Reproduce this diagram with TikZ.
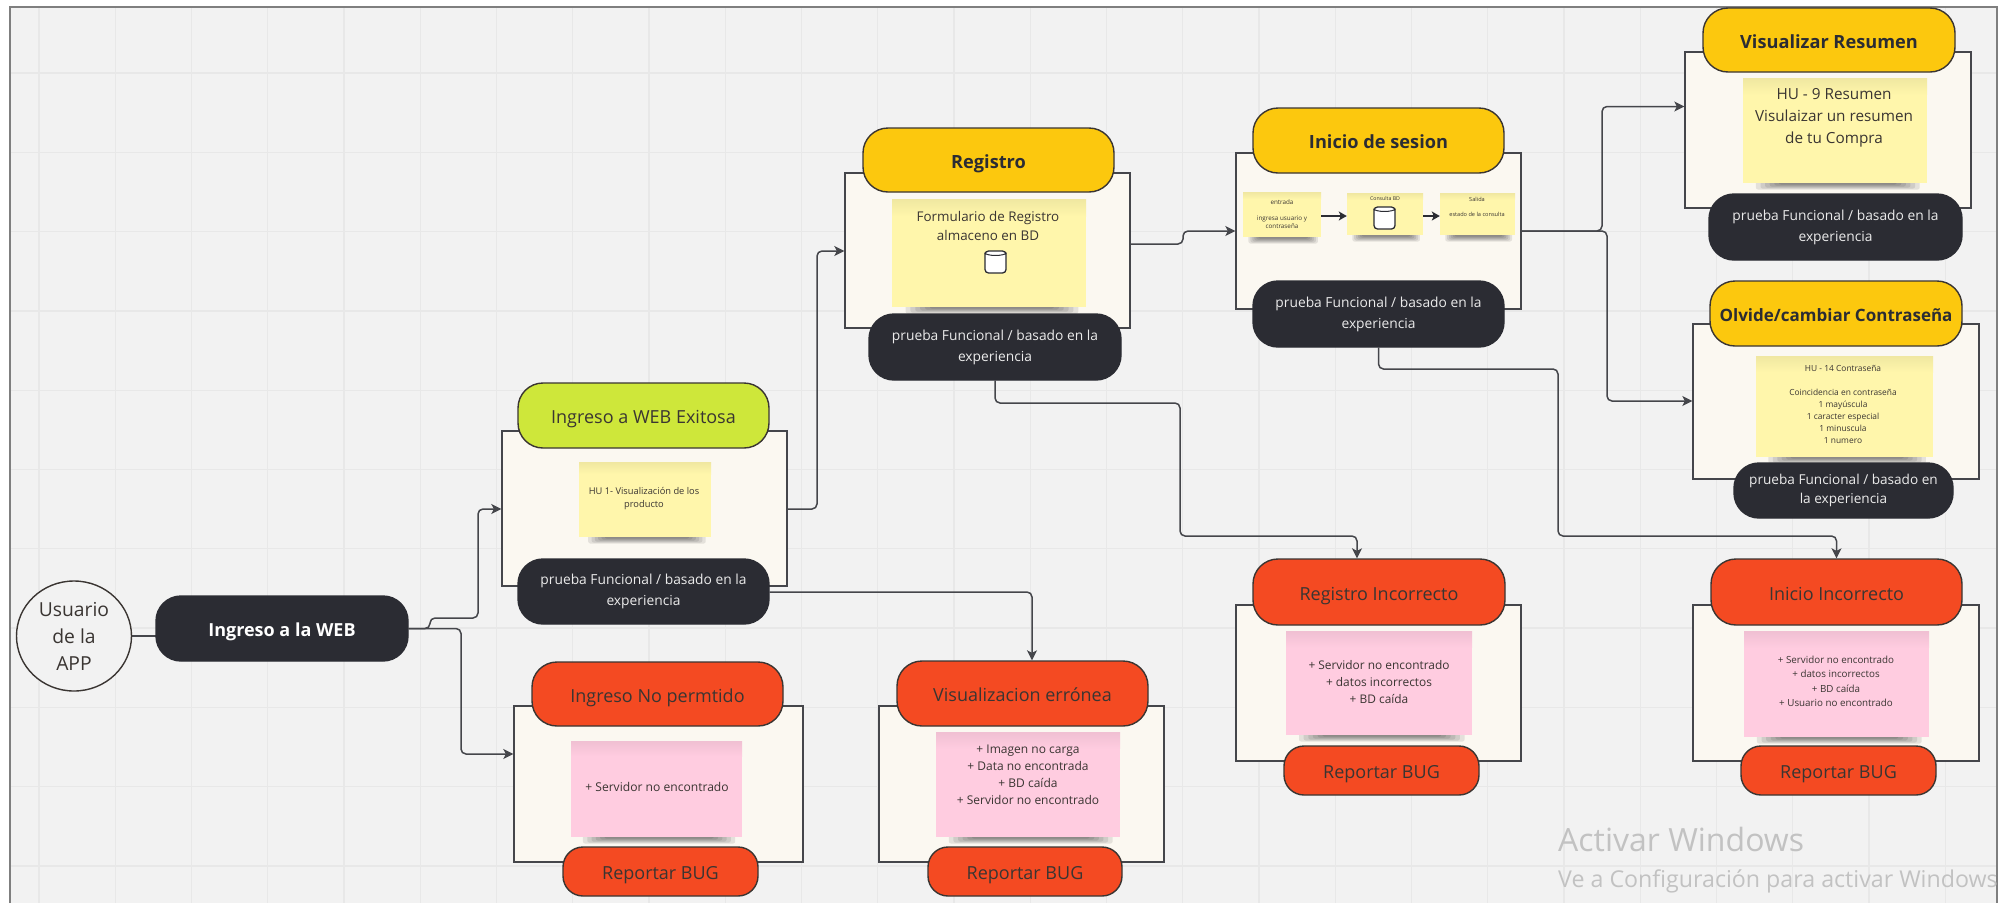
\documentclass[tikz,border=0pt]{standalone}
\usepackage{fontspec}
\setmainfont{Open Sans}
\usetikzlibrary{arrows.meta,calc,shapes.geometric}
\definecolor{bgc}{HTML}{F2F2F2}
\definecolor{gridc}{HTML}{E8E8E8}
\definecolor{framec}{HTML}{7F7F7F}
\definecolor{darkc}{HTML}{2B2C33}
\definecolor{redc}{HTML}{F44A22}
\definecolor{yelc}{HTML}{FCC80E}
\definecolor{grnc}{HTML}{CEE73A}
\definecolor{boxc}{HTML}{FBF8F1}
\definecolor{stky}{HTML}{FFF6AB}
\definecolor{stkp}{HTML}{FFCCE0}
\definecolor{linec}{HTML}{45464B}
\definecolor{inkc}{HTML}{3A3532}
\definecolor{wmc}{HTML}{C2C2C2}
\pgfdeclarelayer{bglayer}\pgfdeclarelayer{connlayer}\pgfdeclarelayer{toplayer}
\pgfsetlayers{bglayer,connlayer,main,toplayer}
\newcommand\fs[2]{\fontsize{#1}{#2}\selectfont}
\newcommand\blk[7]{\pgfmathsetmacro\bx{(#3+#5)/2}\pgfmathsetmacro\by{(#4+#6)/2}\pgfmathsetmacro\bw{#5-#3}\pgfmathsetmacro\bh{#6-#4}\node[#2,minimum width=\bw pt,minimum height=\bh pt] (#1) at (\bx,\by) {#7};}
% name, colour, x0,y0,x1,y1, text position, font, text
\newcommand\sticky[9]{%
  \pgfmathsetmacro\sw{#5-#3}%
  \foreach \k in {0,...,5}{%
    \fill[black,opacity=.09,rounded corners=2pt] ({#3+\sw*(.07+.025*\k)},#6-3) rectangle ({#5-\sw*(.04+.025*\k)},{#6+6.5-1*\k});}%
  \pgfmathsetmacro\bx{(#3+#5)/2}\pgfmathsetmacro\by{(#4+#6)/2}\pgfmathsetmacro\bh{#6-#4}%
  \node[stickybase,fill=#2,minimum width=\sw pt,minimum height=\bh pt] (#1) at (\bx,\by) {};%
  \shade[top color=#2!94!black,bottom color=#2] (#3,#4) rectangle (#5,{#4+.16*\bh});%
  \node[stxt,font=#8] (#1t) at #7 {#9};}
% name, x, y
\newcommand\dbcyl[3]{%
  \node[dbbody] (#1) at (#2,#3) {};%
  \draw[darkc,line width=1pt] ($(#1.north west)+(0,2.5)$) .. controls +(3,3.5) and +(-3,3.5) .. ($(#1.north east)+(0,2.5)$);}
\tikzset{
  x=1pt,y=-1pt,
  pillbase/.style={draw=inkc,line width=1.4pt,rounded corners=25pt,inner sep=0pt,align=center},
  oneline/.style={text height=16pt,text depth=0pt},
  darkpill/.style={pillbase,draw=darkc,fill=darkc,text=white!92!black,font=\fs{13.8}{21}},
  mainpill/.style={pillbase,draw=darkc,fill=darkc,text=white,oneline,font=\fs{18}{24}\bfseries},
  redpill/.style={pillbase,fill=redc,text=inkc,oneline,font=\fs{18}{24}},
  reppill/.style={redpill,rounded corners=20pt},
  yelpill/.style={pillbase,fill=yelc,text=darkc,oneline,font=\fs{18.2}{24}\bfseries},
  grnpill/.style={pillbase,fill=grnc,text=inkc,oneline,font=\fs{18}{24}},
  boxfr/.style={draw=linec,line width=1.4pt,fill=boxc,inner sep=0pt},
  stickybase/.style={inner sep=0pt},
  stxt/.style={text=inkc,align=center,inner sep=0pt},
  conn/.style={draw=linec,line width=1.5pt,rounded corners=5pt,-{Stealth[length=10pt,width=10pt,inset=2.5pt]}},
  minilink/.style={conn,draw=darkc,line width=1.9pt,-{Stealth[length=8pt,width=9pt,inset=2pt]}},
  dbbody/.style={draw=darkc,fill=white,line width=1.3pt,rounded corners=3.5pt,minimum width=21pt,minimum height=22pt,inner sep=0pt},
  gridln/.style={draw=gridc,line width=1.3pt},
  wm/.style={text=wmc,anchor=west,inner sep=0pt}
}
\begin{document}
\begin{tikzpicture}
\useasboundingbox (0,0) rectangle (2007,903);
\begin{pgfonlayer}{bglayer}
\fill[bgc] (10,7) rectangle (1997,903);
\begin{scope}
\clip (10,7) rectangle (1997,903);
\foreach \k in {0,...,25}{\draw[gridln] ({39+76.25*\k},7) -- ({39+76.25*\k},903);}
\foreach \k in {0,...,10}{\draw[gridln] (10,{73+79.3*\k}) -- (1997,{73+79.3*\k});}
\end{scope}
\draw[framec,line width=2.4pt] (10,903) -- (10,7) -- (1997,7) -- (1997,903);
\end{pgfonlayer}

% user and entry
\node[draw=inkc,fill=bgc,line width=1.4pt,ellipse,minimum width=115pt,minimum height=110pt,inner sep=0pt,align=center,text=inkc,font=\fs{19.3}{27}] (user) at (74,636) {Usuario\\de la\\APP};
\blk{web}{mainpill}{156}{596}{408}{661}{Ingreso a la WEB}

% ingreso exitoso
\blk{okB}{boxfr}{502}{431}{787}{586}{}
\sticky{okS}{stky}{579}{462}{711}{537}{(644,498.5)}{\fs{9.3}{13}}{HU 1- Visualización de los\\producto}
\blk{okT}{grnpill}{518}{383}{769}{448}{Ingreso a WEB Exitosa}
\blk{okD}{darkpill}{518}{559}{769}{624}{prueba Funcional / basado en la\\experiencia}

% ingreso no permitido
\blk{noB}{boxfr}{514}{706}{803}{862}{}
\sticky{noS}{stkp}{571}{741}{742}{837}{(657,787)}{\fs{12.1}{17}}{+ Servidor no encontrado}
\blk{noT}{redpill}{532}{662}{783}{726}{Ingreso No permtido}
\blk{noR}{reppill}{563}{847}{758}{896}{Reportar BUG}

% visualizacion erronea
\blk{visB}{boxfr}{879}{706}{1164}{862}{}
\sticky{visS}{stkp}{936}{732}{1120}{837}{(1028,774.5)}{\fs{12}{17}}{+ Imagen no carga\\+ Data no encontrada\\+ BD caída\\+ Servidor no encontrado}
\blk{visT}{redpill}{897}{661}{1148}{726}{Visualizacion errónea}
\blk{visR}{reppill}{928}{847}{1122}{896}{Reportar BUG}

% registro
\blk{regB}{boxfr}{845}{173}{1130}{328}{}
\sticky{regS}{stky}{892}{199}{1086}{307}{(988,225.5)}{\fs{13.4}{19}}{Formulario de Registro\\almaceno en BD}
\dbcyl{regDB}{995.5}{262}
\blk{regT}{yelpill}{863}{128}{1114}{192}{Registro}
\blk{regD}{darkpill}{869}{314}{1121}{380}{prueba Funcional / basado en la\\experiencia}

% registro incorrecto
\blk{riB}{boxfr}{1236}{605}{1521}{761}{}
\sticky{riS}{stkp}{1286}{631}{1472}{735}{(1379,682)}{\fs{11.9}{17}}{+ Servidor no encontrado\\+ datos incorrectos\\+ BD caída}
\blk{riT}{redpill}{1253}{559}{1505}{625}{Registro Incorrecto}
\blk{riR}{reppill}{1284}{746}{1479}{795}{Reportar BUG}

% inicio de sesion
\blk{inB}{boxfr}{1236}{153}{1521}{309}{}
\sticky{inA}{stky}{1243}{192}{1321}{237}{(1282,214)}{\fs{6.3}{8}}{entrada\\[8pt]ingresa usuario y\\contraseña}
\sticky{inC}{stky}{1347}{193}{1423}{235}{(1385,199)}{\fs{5.2}{8}}{Consulta BD}
\dbcyl{inDB}{1384.5}{218}
\sticky{inE}{stky}{1440}{193}{1515}{235}{(1477,206.5)}{\fs{5.6}{8}}{Salida\\[7pt]estado de la consulta}
\blk{inT}{yelpill}{1253}{108}{1504}{173}{Inicio de sesion}
\blk{inD}{darkpill}{1253}{281}{1504}{347}{prueba Funcional / basado en la\\experiencia}

% inicio incorrecto
\blk{iiB}{boxfr}{1693}{605}{1979}{761}{}
\sticky{iiS}{stkp}{1744}{631}{1929}{737}{(1836,681.5)}{\fs{9.8}{14.4}}{+ Servidor no encontrado\\+ datos incorrectos\\+ BD caída\\+ Usuario no encontrado}
\blk{iiT}{redpill}{1711}{559}{1962}{625}{Inicio Incorrecto}
\blk{iiR}{reppill}{1741}{746}{1936}{795}{Reportar BUG}

% visualizar resumen
\blk{resB}{boxfr}{1685}{52}{1971}{208}{}
\sticky{resS}{stky}{1743}{78}{1927}{183}{(1834,118)}{\fs{15.3}{22}}{HU - 9 Resumen\\Visulaizar un resumen\\de tu Compra}
\blk{resT}{yelpill}{1703}{8}{1955}{72}{Visualizar Resumen}
\blk{resD}{darkpill}{1709}{194}{1962}{260}{prueba Funcional / basado en la\\experiencia}

% olvide contrasena
\blk{olvB}{boxfr}{1693}{324}{1979}{479}{}
\sticky{olvS}{stky}{1756}{356}{1933}{457}{(1843,404.5)}{\fs{8.4}{11.9}}{HU - 14  Contraseña\\[11.9pt]Coincidencia en contraseña\\1 mayúscula\\1 caracter especial\\1 minuscula\\1 numero}
\blk{olvT}{yelpill,font=\fs{17}{24}\bfseries}{1710}{281}{1962}{346}{Olvide/cambiar Contraseña}
\blk{olvD}{darkpill,font=\fs{13.6}{19.3}}{1734}{463}{1953}{518}{prueba Funcional / basado en\\la experiencia}

% watermark
\node[wm,font=\fs{32}{36}] (wm1) at (1558,839) {Activar Windows};
\begin{scope}
\clip (1500,860) rectangle (1997,903);
\node[wm,font=\fs{23.2}{25}] (wm2) at (1558,881) {Ve a Configuración para activar Windows};
\end{scope}

% connectors
\begin{pgfonlayer}{connlayer}
\draw[conn] (user.east) -- (web.center |- user.east);
\draw[conn] (web.east) -- (430,628.5) -- (430,618) -- (478,618) -- (478,509) -- (okB.west |- 0,509);
\draw[conn] (web.east) -- (461,628.5) -- (461,754) -- (noB.west |- 0,754);
\draw[conn] (okB.east |- 0,509) -- (817,509) -- (817,251) -- (regB.west |- 0,251);
\draw[conn] (okD.east |- 0,592) -- (1032,592) -- (visT.north -| 1032,0);
\draw[conn] (regB.east |- 0,244) -- (1183,244) -- (1183,231) -- (inB.west |- 0,231);
\draw[conn] (regD.south -| 995,0) -- (995,403) -- (1180,403) -- (1180,536) -- (1357,536) -- (riT.north -| 1357,0);
\draw[conn] (inD.south) -- (1378.5,369) -- (1558,369) -- (1558,536) -- (1836.5,536) -- (iiT.north);
\draw[conn] (inB.east |- 0,231) -- (1602,231) -- (1602,106.5) -- (resB.west |- 0,106.5);
\draw[conn] (inB.east |- 0,231) -- (1607,231) -- (1607,401) -- (olvB.west |- 0,401);
\end{pgfonlayer}
\begin{pgfonlayer}{toplayer}
\draw[minilink] (inA.east |- 0,216) -- (inC.west |- 0,216);
\draw[minilink] (inC.east |- 0,216) -- (inE.west |- 0,216);
\end{pgfonlayer}
\end{tikzpicture}
\end{document}
